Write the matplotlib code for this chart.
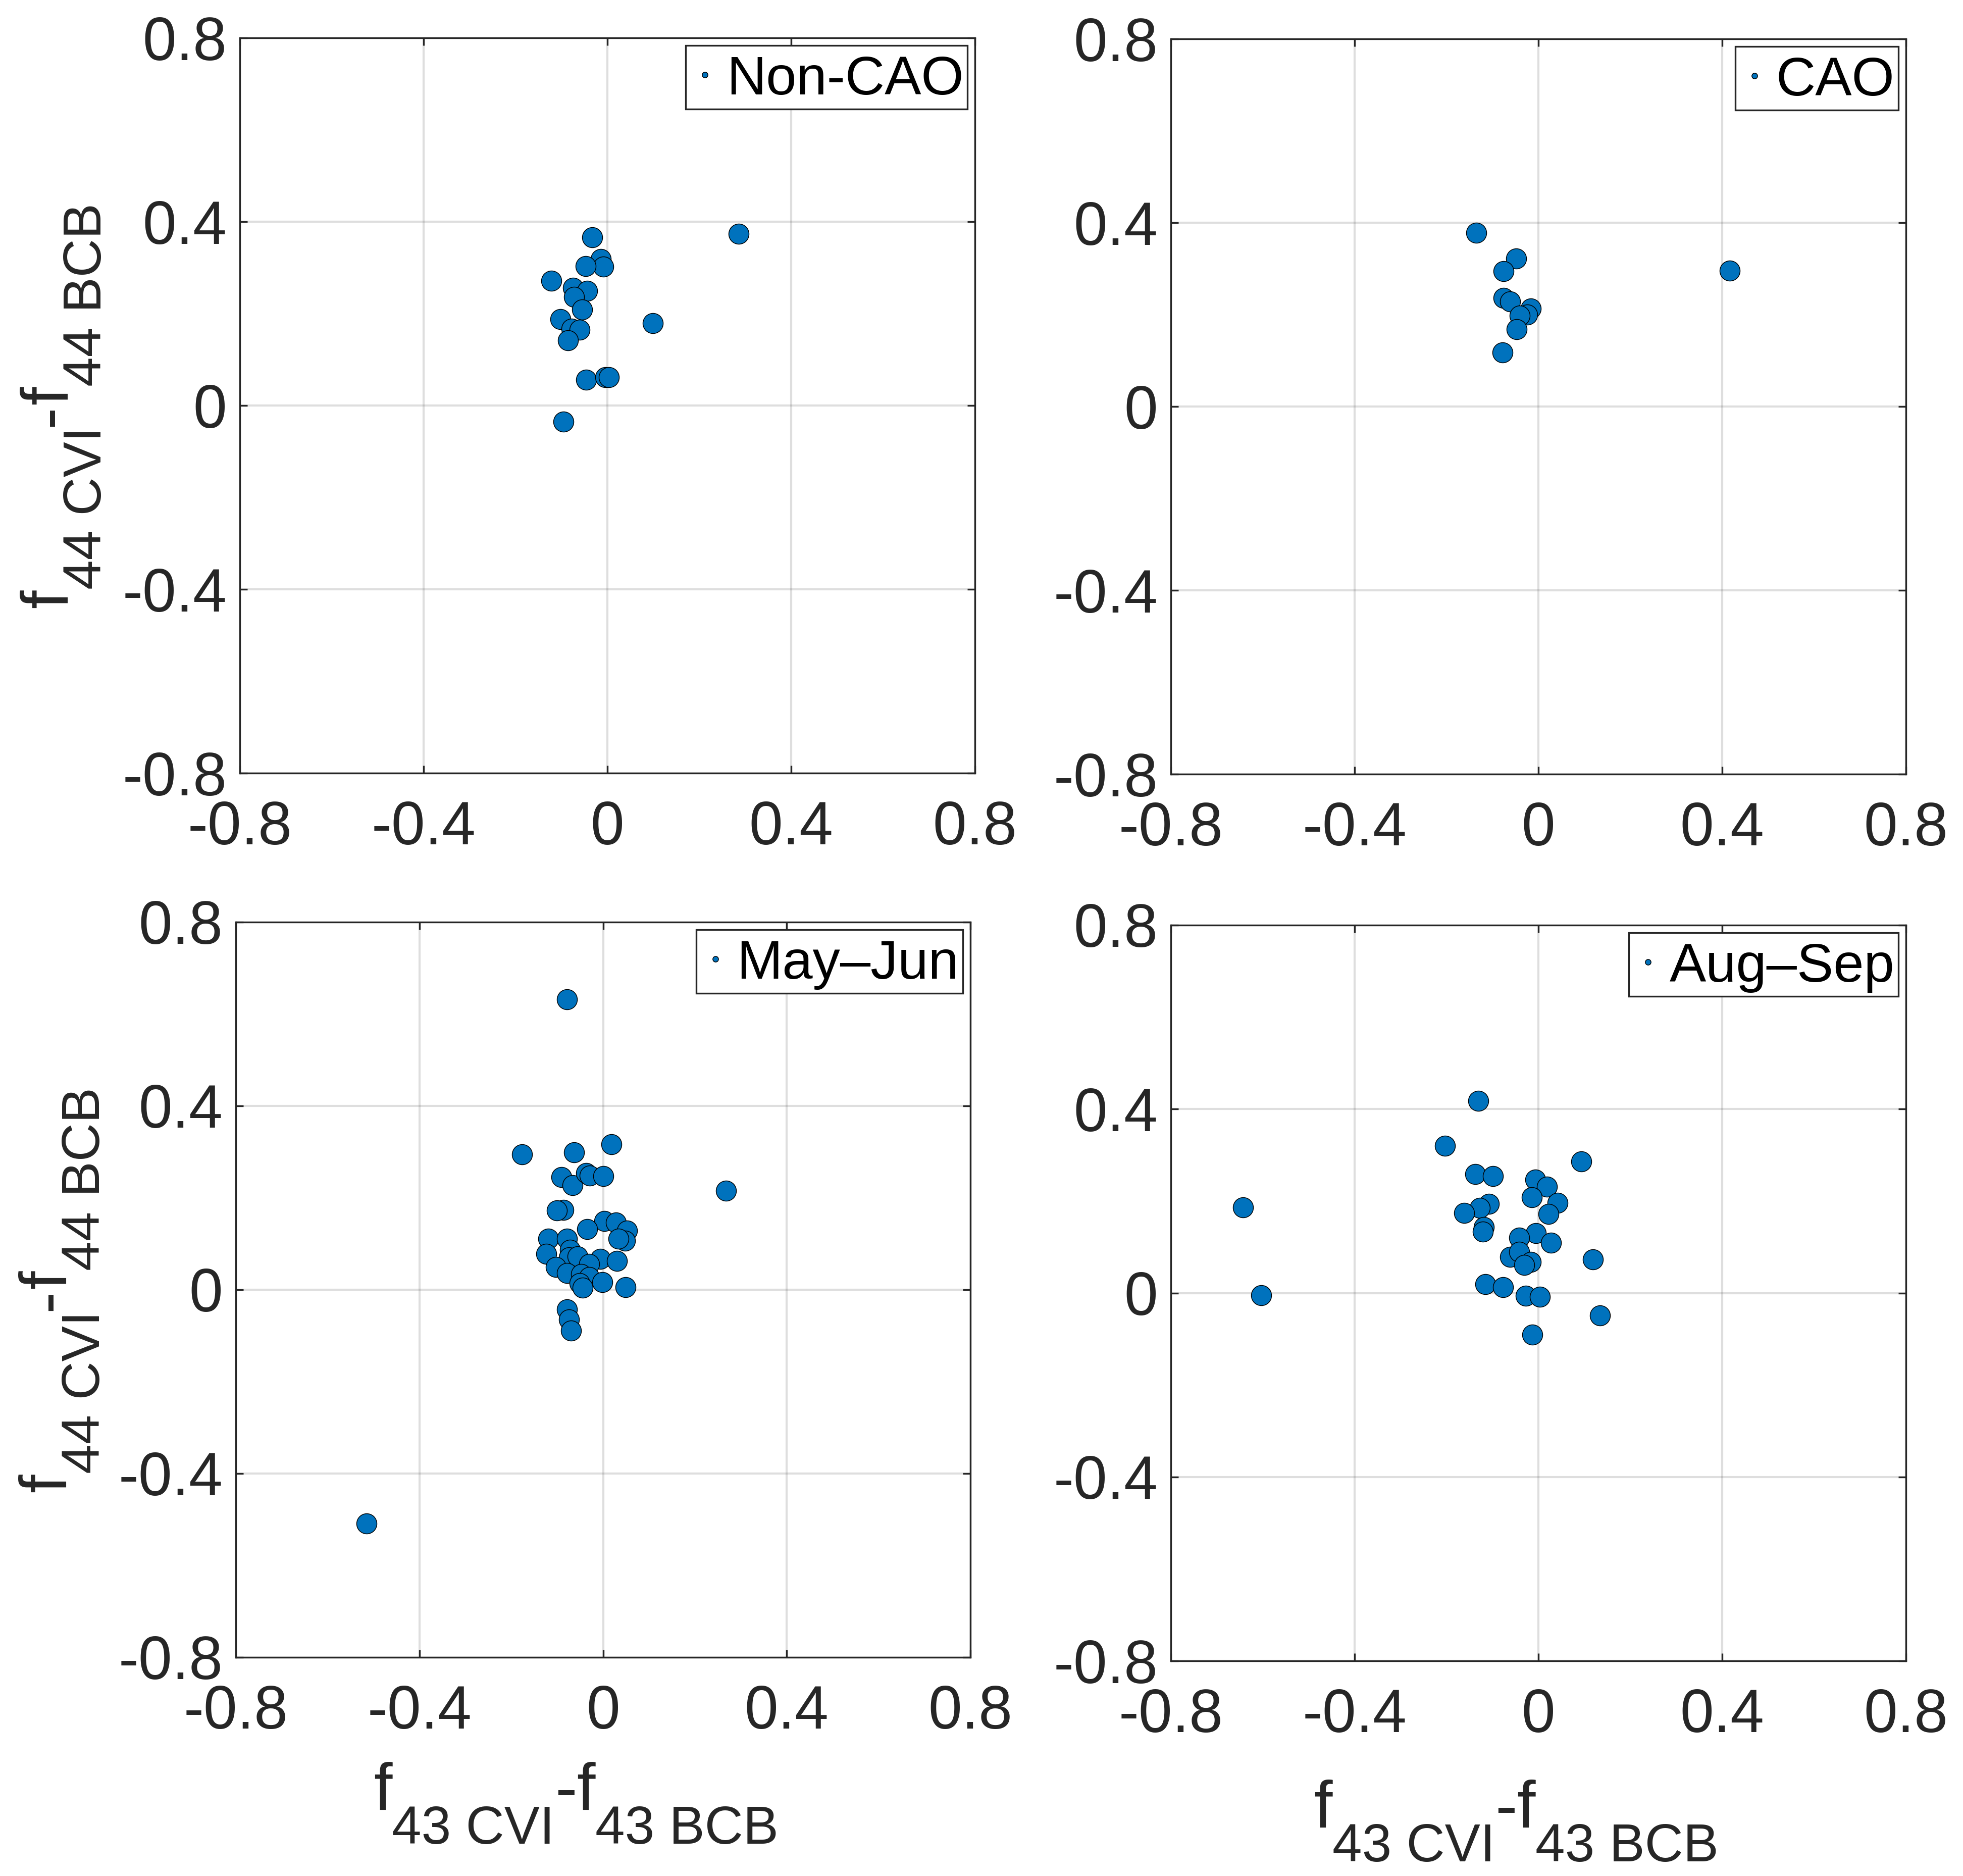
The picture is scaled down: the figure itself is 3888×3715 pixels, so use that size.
import matplotlib
matplotlib.use("Agg")
import matplotlib.pyplot as plt

plt.rcParams['font.family'] = ['Liberation Sans', 'DejaVu Sans']
plt.rcParams['axes.unicode_minus'] = False

# ---------------- data ----------------
tick_values = [-0.8, -0.4, 0, 0.4, 0.8]
tick_labels = ['-0.8', '-0.4', '0', '0.4', '0.8']

panel_names = ['Non-CAO', 'CAO', 'May\u2013Jun', 'Aug\u2013Sep']

noncao_x = [-0.033, 0.286, -0.014, -0.009, -0.047, -0.122, -0.075, -0.044, -0.072, -0.055,
            -0.102, -0.078, -0.060, -0.086, 0.099, -0.046, -0.004, 0.003, -0.096]
noncao_y = [0.366, 0.374, 0.319, 0.302, 0.303, 0.271, 0.256, 0.250, 0.236, 0.209,
            0.188, 0.167, 0.165, 0.142, 0.179, 0.056, 0.061, 0.062, -0.035]

cao_x = [-0.135, 0.416, -0.048, -0.076, -0.076, -0.061, -0.016, -0.024, -0.041, -0.047, -0.078]
cao_y = [0.378, 0.296, 0.322, 0.294, 0.236, 0.229, 0.213, 0.200, 0.198, 0.168, 0.118]

mayjun_x = [-0.079, -0.176, -0.063, 0.018, 0.268, -0.091, -0.066, -0.037, -0.029, 0.000,
            -0.086, -0.101, 0.003, 0.028, 0.052, 0.048, 0.033, -0.035, -0.119, -0.079,
            -0.124, -0.072, -0.074, -0.055, -0.103, -0.006, 0.030, -0.030, -0.079, -0.048,
            -0.030, -0.051, -0.044, -0.002, 0.049, -0.079, -0.074, -0.070, -0.515]
mayjun_y = [0.632, 0.295, 0.299, 0.316, 0.215, 0.245, 0.228, 0.254, 0.248, 0.247,
            0.174, 0.173, 0.149, 0.146, 0.129, 0.107, 0.111, 0.132, 0.111, 0.111,
            0.078, 0.087, 0.070, 0.073, 0.049, 0.067, 0.063, 0.056, 0.036, 0.034,
            0.028, 0.014, 0.004, 0.017, 0.006, -0.043, -0.065, -0.089, -0.509]

augsep_x = [-0.131, -0.203, -0.137, -0.099, -0.007, 0.019, 0.093, -0.014, 0.042, 0.022,
            -0.108, -0.128, -0.161, -0.119, -0.121, -0.006, -0.042, 0.027, -0.062, -0.042,
            -0.017, -0.031, 0.119, -0.115, -0.077, -0.027, 0.003, 0.134, -0.013, -0.643, -0.603]
augsep_y = [0.418, 0.320, 0.259, 0.254, 0.247, 0.231, 0.286, 0.208, 0.196, 0.172,
            0.194, 0.185, 0.174, 0.143, 0.133, 0.130, 0.120, 0.109, 0.079, 0.090,
            0.068, 0.061, 0.073, 0.019, 0.013, -0.006, -0.008, -0.049, -0.091, 0.186, -0.005]

series = [(noncao_x, noncao_y), (cao_x, cao_y), (mayjun_x, mayjun_y), (augsep_x, augsep_y)]

# ---------------- layout ----------------
W, H = 3888, 3715
DPI = 300
fig = plt.figure(figsize=(W / DPI, H / DPI), dpi=DPI)

# axes boxes in image pixels: left, top, right, bottom
boxes = [(475, 75, 1931, 1531), (2319, 77, 3775, 1533),
         (467, 1826, 1922, 3282), (2319, 1832, 3775, 3289)]

dark = '#262626'
blue = '#0072BD'
tick_fs = 28.8
leg_fs = 26
lab_fs = 31.5
sub_fs = 25.3
drop_px = 66

axes = []
for i, (l, t, r, b) in enumerate(boxes):
    ax = fig.add_axes([l / W, 1 - b / H, (r - l) / W, (b - t) / H])
    xs, ys = series[i]
    ax.scatter(xs, ys, s=92, c=blue, edgecolors='black', linewidths=0.35,
               label=panel_names[i], zorder=3)
    ax.set_xlim(-0.8, 0.8)
    ax.set_ylim(-0.8, 0.8)
    ax.set_xticks(tick_values)
    ax.set_yticks(tick_values)
    ax.set_xticklabels(tick_labels)
    ax.set_yticklabels(tick_labels)
    ax.grid(True, color=dark, alpha=0.15, linewidth=1.0)
    ax.set_axisbelow(True)
    ax.tick_params(direction='in', top=True, right=True, length=3.5, width=0.8,
                   colors=dark, labelsize=tick_fs)
    ax.tick_params(axis='x', pad=13)
    ax.tick_params(axis='y', pad=6.2)
    for sp in ax.spines.values():
        sp.set_color(dark)
        sp.set_linewidth(0.8)
    leg = ax.legend(loc='upper right', fontsize=leg_fs, markerscale=0.28,
                    frameon=True, fancybox=False, shadow=False,
                    borderpad=0.07, handlelength=0.55, handletextpad=0.12,
                    handleheight=1.1, borderaxespad=0.14, scatterpoints=1)
    leg.get_frame().set_edgecolor(dark)
    leg.get_frame().set_linewidth(0.8)
    leg.get_frame().set_alpha(1.0)
    axes.append(ax)

fig.canvas.draw()
renderer = fig.canvas.get_renderer()


def compound(pieces, x0, y0, vertical=False, center=None):
    """Draw text pieces one after another. x0,y0 in image pixels (origin top-left),
    y0/x0 is the baseline of the base text."""
    widths = []
    for txt, fs, _ in pieces:
        tmp = fig.text(0, 0, txt, fontsize=fs)
        widths.append(tmp.get_window_extent(renderer).width)
        tmp.remove()
    total = sum(widths)
    pos = 0.0
    for (txt, fs, drop), w in zip(pieces, widths):
        if not vertical:
            px, py = x0 + pos, y0 + drop
            fig.text(px / W, 1 - py / H, txt, fontsize=fs, color=dark,
                     ha='left', va='baseline')
        else:
            start = center + total / 2.0
            px, py = x0 + drop, start - pos
            fig.text(px / W, 1 - py / H, txt, fontsize=fs, color=dark,
                     ha='left', va='baseline', rotation=90, rotation_mode='anchor')
        pos += w


xlab = [('f', lab_fs, 0), ('43 CVI', sub_fs, drop_px), ('-', lab_fs, 0),
        ('f', lab_fs, 0), ('43 BCB', sub_fs, drop_px)]
ylab = [('f', lab_fs, 0), ('44 CVI', sub_fs, drop_px), ('-', lab_fs, 0),
        ('f', lab_fs, 0), ('44 BCB', sub_fs, drop_px)]

compound(xlab, 740, 3585)
compound(xlab, 2602, 3620)
compound(ylab, 134, None, vertical=True, center=(75 + 1531) / 2)
compound(ylab, 131, None, vertical=True, center=(1826 + 3282) / 2)

fig.savefig('out.png', dpi=DPI, facecolor='white')
